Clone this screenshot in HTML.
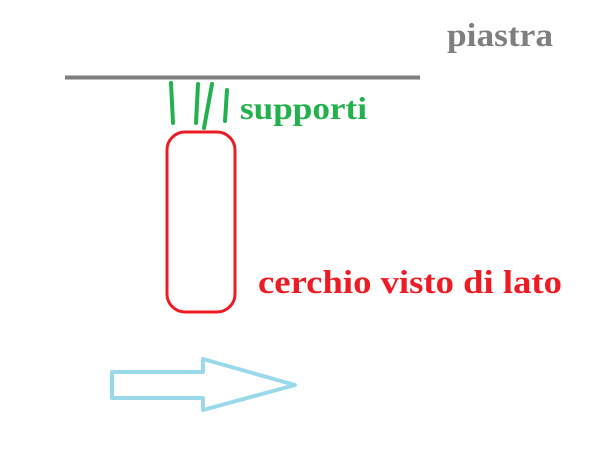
<!DOCTYPE html>
<html><head><style>html,body{margin:0;padding:0;background:#fff;}svg{display:block;}</style></head>
<body>
<svg width="602" height="450" viewBox="0 0 602 450" xmlns="http://www.w3.org/2000/svg">
<rect width="602" height="450" fill="#fff"/>
<line x1="65" y1="77.5" x2="420" y2="77.5" stroke="#7f7f7f" stroke-width="4"/>
<g stroke="#22b14c" stroke-width="4" stroke-linecap="round">
<line x1="171" y1="83" x2="173" y2="123"/>
<line x1="198" y1="84" x2="196" y2="123"/>
<line x1="212" y1="84" x2="204" y2="128"/>
<line x1="227" y1="90" x2="225" y2="121"/>
</g>
<rect x="167" y="132" width="68" height="180" rx="18" ry="18" fill="none" stroke="#ed1c24" stroke-width="3"/>
<polygon points="112,372 203,372 203,359 295,385 203,410 203,398 112,398" fill="none" stroke="#99d9ea" stroke-width="4" stroke-linejoin="round"/>
<g font-family="Liberation Serif, serif" font-weight="bold">
<text x="447" y="46" font-size="33" fill="#7f7f7f" textLength="106" lengthAdjust="spacingAndGlyphs">piastra</text>
<text x="240" y="119" font-size="32" fill="#22b14c" textLength="127" lengthAdjust="spacingAndGlyphs">supporti</text>
<text x="258" y="293" font-size="33" fill="#ed1c24" textLength="304" lengthAdjust="spacingAndGlyphs">cerchio visto di lato</text>
</g>
</svg>
</body></html>
